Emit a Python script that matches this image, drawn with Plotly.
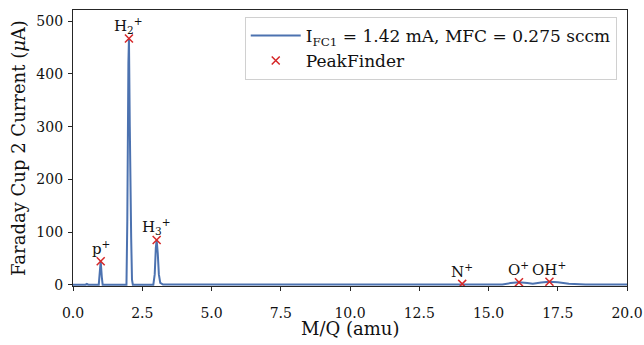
import plotly.graph_objects as go

# Mass spectrum recorded on Faraday cup 2
mq = [0.0, 0.45, 0.5, 0.55, 0.93, 0.96, 1.0, 1.04, 1.07, 1.93, 1.96, 2.0, 2.02, 2.05, 2.08,
      2.1, 2.13, 2.16, 2.9, 2.95, 2.99, 3.02, 3.06, 3.1, 3.15, 3.25, 6.0, 10.0, 13.4, 13.8,
      14.05, 14.3, 14.8, 15.5, 15.8, 16.1, 16.4, 16.6, 16.9, 17.2, 17.5, 17.9, 18.5, 20.0]
current = [0.5, 0.5, 2.0, 0.5, 0.5, 15.0, 45.0, 15.0, 0.5, 0.5, 120.0, 420.0, 467.0, 300.0,
           120.0, 90.0, 10.0, 0.5, 0.5, 20.0, 70.0, 85.0, 60.0, 20.0, 4.0, 0.8, 0.8, 0.8, 0.8,
           1.5, 2.0, 1.5, 1.0, 1.0, 3.5, 5.0, 3.5, 2.5, 4.5, 6.0, 5.0, 2.5, 1.0, 0.8]

# Peaks located by the peak finder
peak_mq = [1.0, 2.02, 3.02, 14.05, 16.1, 17.2]
peak_current = [45.0, 467.0, 85.0, 2.0, 5.0, 6.0]
peak_labels = ["p<sup>+</sup>", "H<sub>2</sub><sup>+</sup>", "H<sub>3</sub><sup>+</sup>",
               "N<sup>+</sup>", "O<sup>+</sup>", "OH<sup>+</sup>"]

x_ticks = [0.0, 2.5, 5.0, 7.5, 10.0, 12.5, 15.0, 17.5, 20.0]
y_ticks = [0, 100, 200, 300, 400, 500]

FONT = "DejaVu Serif"
AXIS_COLOR = "#262626"

fig = go.Figure()
fig.add_trace(go.Scatter(
    x=mq, y=current, mode="lines",
    line=dict(color="#4C72B0", width=2),
    name="I<sub>FC1</sub> = 1.42 mA, MFC = 0.275 sccm",
))
fig.add_trace(go.Scatter(
    x=peak_mq, y=peak_current, mode="markers",
    marker=dict(symbol="x-thin", size=8, line=dict(color="#d62728", width=1.5)),
    name="PeakFinder",
))

for xm, ym, lab in zip(peak_mq, peak_current, peak_labels):
    fig.add_annotation(x=xm, y=ym, text=lab, showarrow=False, yanchor="bottom",
                       yshift=1, font=dict(family=FONT, size=15, color="#111"))

# x-axis title placed below the tick labels
fig.add_annotation(x=0.5, y=-0.155, xref="paper", yref="paper", text="M/Q (amu)",
                   showarrow=False, xanchor="center", yanchor="middle",
                   font=dict(family=FONT, size=18, color="#111"))

axis_common = dict(
    showline=True, linecolor=AXIS_COLOR, linewidth=1.2, mirror=True,
    ticks="outside", ticklen=4, tickcolor=AXIS_COLOR, showgrid=False, zeroline=False,
    tickfont=dict(family=FONT, size=14, color="#111"), automargin=False,
)

fig.update_layout(
    width=644, height=345,
    margin=dict(l=73, r=17, t=10, b=59),
    paper_bgcolor="white", plot_bgcolor="white",
    font=dict(family=FONT, color="#111"),
    xaxis=dict(range=[0, 20], tickvals=x_ticks, ticktext=[f"{v:.1f}" for v in x_ticks],
               ticklabelstandoff=10, **axis_common),
    yaxis=dict(range=[-2, 521], tickvals=y_ticks, ticklabelstandoff=2,
               title=dict(text="Faraday Cup 2 Current (<i>μ</i>A)", font=dict(family=FONT, size=18),
                          standoff=6),
               **axis_common),
    legend=dict(x=0.31, y=0.975, xanchor="left", yanchor="top",
                bgcolor="rgba(255,255,255,0.8)", bordercolor="#d0d0d0", borderwidth=1,
                font=dict(family=FONT, size=17, color="#111"), tracegroupgap=2, itemwidth=50),
    showlegend=True,
)

fig.write_html("out.html")
